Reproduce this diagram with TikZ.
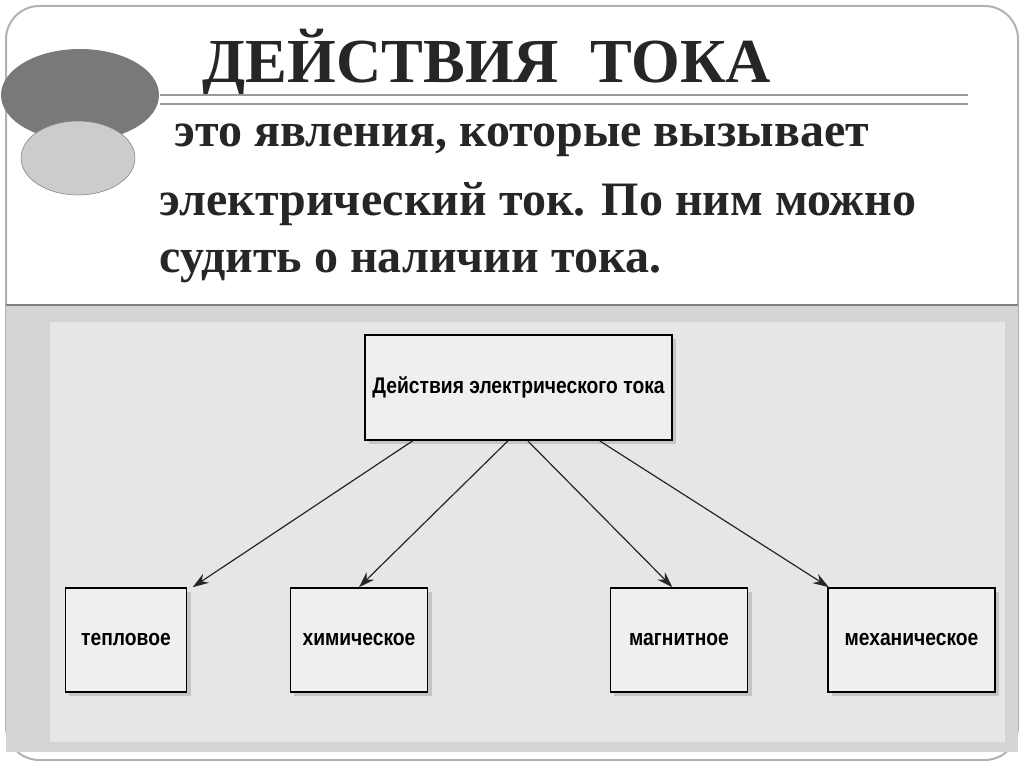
\documentclass[tikz,border=0pt]{standalone}
\usepackage{fontspec}
\setmainfont{Liberation Serif}
\newfontfamily\boxfont{Liberation Sans}
\usetikzlibrary{arrows.meta,shadows}
\definecolor{panel}{HTML}{D4D4D4}
\definecolor{inner}{HTML}{E6E6E6}
\definecolor{boxfill}{HTML}{EFEFEF}
\tikzset{
 actbox/.style={draw=black, line width=1.2pt, fill=boxfill, drop shadow={shadow xshift=3pt,shadow yshift=-3pt,fill=gray!70}, font=\boxfont\bfseries\fontsize{17}{20}\selectfont, inner sep=0pt},
 arr/.style={-{Stealth[length=12pt,width=8pt]}, line width=0.9pt, black!85},
 bodytext/.style={anchor=west, font=\bfseries\fontsize{36}{40}\selectfont, text=black!85}
}
\begin{document}
\begin{tikzpicture}[x=0.75pt,y=-0.75pt]
\useasboundingbox (0,0) rectangle (1024,767);
\fill[white] (0,0) rectangle (1024,767);
\draw[gray!60, line width=1.5pt, rounded corners=25pt] (6,6) rectangle (1018,760);
% panel
\fill[panel] (6,305) rectangle (1018,752);
\draw[gray, line width=1.5pt] (6,305) -- (1018,305);
\fill[inner] (50,322) rectangle (1005,742);
% ellipses
\fill[gray!95!black] (80,95) ellipse [x radius=79, y radius=46];
\draw[gray, fill=gray!40] (78,158) ellipse [x radius=57, y radius=37];
% title
\node[anchor=west, font=\bfseries\fontsize{47}{52}\selectfont, text=black!85] (title) at (198,63) {ДЕЙСТВИЯ\ \ ТОКА};
\draw[gray!80, line width=2pt] (160,95) -- (968,95);
\draw[gray!80, line width=2pt] (160,104) -- (968,104);
% body
\node[bodytext] (l1) at (170,140) {это явления, которые вызывает};
\node[bodytext] (l2) at (155,204) {электрический ток. По ним можно};
\node[bodytext] (l3) at (155,266) {судить о наличии тока.};
% boxes
\node[actbox, minimum width=230pt, minimum height=79pt] (top) at (518.5,387.5) {\scalebox{0.85}[1]{Действия электрического тока}};
\node[actbox, minimum width=91pt, minimum height=78pt] (b1) at (126,640) {\scalebox{0.85}[1]{тепловое}};
\node[actbox, minimum width=103pt, minimum height=78pt] (b2) at (359,640) {\scalebox{0.85}[1]{химическое}};
\node[actbox, minimum width=103pt, minimum height=78pt] (b3) at (679,640) {\scalebox{0.85}[1]{магнитное}};
\node[actbox, minimum width=125pt, minimum height=78pt] (b4) at (911.5,640) {\scalebox{0.85}[1]{механическое}};
\draw[arr] ([xshift=-79.5pt]top.south) -- ([xshift=50pt]b1.north);
\draw[arr] ([xshift=-8pt]top.south) -- ([xshift=0pt]b2.north);
\draw[arr] ([xshift=7pt]top.south) -- ([xshift=-5pt]b3.north);
\draw[arr] ([xshift=61pt]top.south) -- ([xshift=-62pt]b4.north);
\end{tikzpicture}
\end{document}
